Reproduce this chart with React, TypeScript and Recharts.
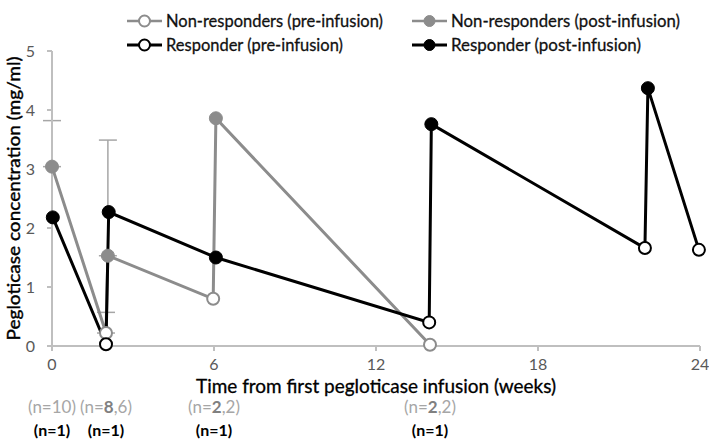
import React from 'react';
import { LineChart, Line, XAxis, YAxis, ErrorBar, ReferenceDot, Label } from 'recharts';

// weeks since first infusion, concentration in mg/ml
const nonRespTime = [0, 2, 2.07, 5.97, 6.07, 14];
const nonRespValue = [3.04, 0.22, 1.53, 0.8, 3.86, 0.02];
const nonRespPhase = ['post', 'pre', 'post', 'pre', 'post', 'pre'];
const nonRespErrUp = [0.78, 0.35, 1.96, null, null, null];

const respTime = [0.03, 2, 2.1, 6.07, 13.97, 14.05, 21.96, 22.07, 23.96];
const respValue = [2.18, 0.03, 2.27, 1.5, 0.4, 3.76, 1.66, 4.37, 1.63];
const respPhase = ['post', 'pre', 'post', 'post', 'pre', 'post', 'pre', 'post', 'pre'];

const xTicks = [0, 6, 12, 18, 24];
const yTicks = [0, 1, 2, 3, 4, 5];

// sample sizes under the axis
const countTimes = [0, 2, 6, 14];
const nonRespCountBold = ['', '8', '2', '2'];
const nonRespCountRest = ['10', ',6', ',2', ',2'];
const respCount = ['1', '1', '1', '1'];

const legendItems = [
  { name: 'Non-responders (pre-infusion)', color: '#8c8c8c', open: true, w: 217 },
  { name: 'Non-responders (post-infusion)', color: '#8c8c8c', open: false, w: 229 },
  { name: 'Responder (pre-infusion)', color: '#000', open: true, w: 177 },
  { name: 'Responder (post-infusion)', color: '#000', open: false, w: 190 },
];

const GRAY = '#8c8c8c';
const AXIS = '#bfbfbf';
const FONT = 'Lato, "Open Sans", sans-serif';

const nonRespData = nonRespTime.map((t, i) => ({
  t,
  v: nonRespValue[i],
  phase: nonRespPhase[i],
  err: nonRespErrUp[i] == null ? undefined : [0, nonRespErrUp[i]],
}));

const respData = respTime.map((t, i) => ({ t, v: respValue[i], phase: respPhase[i] }));

const makeDot = (color: string) => (props: any) => {
  const { cx, cy, payload, index } = props;
  if (cx == null || cy == null) return <g key={`e-${index}`} />;
  const pre = payload.phase === 'pre';
  return (
    <circle
      key={`d-${index}`}
      cx={cx}
      cy={cy}
      r={pre ? 6 : 6.5}
      fill={pre ? '#fff' : color}
      stroke={color}
      strokeWidth={pre ? 2 : 1}
    />
  );
};

const xTitle = (props: any) => {
  const vb = props.viewBox || { x: 52, y: 346, width: 648 };
  return (
    <text
      x={vb.x + vb.width / 2}
      y={vb.y + 47}
      textAnchor="middle"
      fontSize={19}
      fill="#000"
      stroke="#000"
      strokeWidth={0.3}
      textLength={360}
      lengthAdjust="spacingAndGlyphs"
    >
      Time from first pegloticase infusion (weeks)
    </text>
  );
};

const yTitle = (props: any) => {
  const vb = props.viewBox || { x: 0, y: 51, height: 295 };
  const cy = vb.y + vb.height / 2;
  return (
    <text
      x={20}
      y={cy}
      transform={`rotate(-90 20 ${cy})`}
      textAnchor="middle"
      fontSize={18}
      fill="#000"
      stroke="#000"
      strokeWidth={0.4}
      textLength={284}
      lengthAdjust="spacingAndGlyphs"
    >
      Pegloticase concentration (mg/ml)
    </text>
  );
};

const countLabel = (i: number) => (props: any) => {
  const vb = props.viewBox || { x: 0, y: 346 };
  const cx = vb.x + (vb.width || 0) / 2;
  const cy = vb.y + (vb.height || 0) / 2;
  return (
    <g>
      <text x={cx} y={cy + 67} textAnchor="middle" fontSize={17} fill="#a6a6a6">
        (n=
        <tspan fontWeight="bold" fill="#808080">{nonRespCountBold[i]}</tspan>
        {nonRespCountRest[i]})
      </text>
      <text x={cx} y={cy + 90} textAnchor="middle" fontSize={16} fontWeight="bold" fill="#000">
        (n={respCount[i]})
      </text>
    </g>
  );
};

const LegendBox = () => (
  <svg
    width={709}
    height={60}
    style={{ position: 'absolute', left: 0, top: 0, pointerEvents: 'none', fontFamily: FONT }}
  >
    {legendItems.map((item, i) => {
      const x0 = i % 2 === 0 ? 127 : 412;
      const y = i < 2 ? 21 : 45;
      const sw = item.color === '#000' ? 3 : 2.5;
      return (
        <g key={item.name}>
          <line x1={x0} x2={x0 + 35} y1={y} y2={y} stroke={item.color} strokeWidth={sw} />
          <circle
            cx={x0 + 17.5}
            cy={y}
            r={5.5}
            fill={item.open ? '#fff' : item.color}
            stroke={item.color}
            strokeWidth={item.open ? 2 : 1}
          />
          <text
            x={x0 + 39}
            y={y + 6}
            fontSize={18}
            fill="#111"
            stroke="#111"
            strokeWidth={0.3}
            textLength={item.w}
            lengthAdjust="spacingAndGlyphs"
          >
            {item.name}
          </text>
        </g>
      );
    })}
  </svg>
);

export default function App() {
  return (
    <div style={{ position: 'relative', width: 709, height: 441, fontFamily: FONT, background: '#fff' }}>
      <style>{'body{margin:0}'}</style>
      <LineChart width={709} height={441} margin={{ top: 51, right: 9, left: 0, bottom: 0 }}>
        <XAxis
          type="number"
          dataKey="t"
          domain={[0, 24]}
          ticks={xTicks}
          interval={0}
          height={95}
          stroke={AXIS}
          strokeWidth={2}
          tickSize={5}
          tickMargin={8}
          tick={{ fill: '#595959', fontSize: 16 }}
        >
          <Label content={xTitle} />
        </XAxis>
        <YAxis
          type="number"
          domain={[0, 5]}
          ticks={yTicks}
          interval={0}
          width={52}
          stroke={AXIS}
          strokeWidth={2}
          tickSize={5}
          tickMargin={12}
          tick={{ fill: '#595959', fontSize: 16 }}
        >
          <Label content={yTitle} />
        </YAxis>
        <Line
          data={nonRespData}
          dataKey="v"
          type="linear"
          stroke={GRAY}
          strokeWidth={3}
          dot={makeDot(GRAY)}
          activeDot={false}
          isAnimationActive={false}
        >
          <ErrorBar dataKey="err" direction="y" width={9} stroke="#a6a6a6" strokeWidth={1.5} />
        </Line>
        <Line
          data={respData}
          dataKey="v"
          type="linear"
          stroke="#000"
          strokeWidth={3}
          dot={makeDot('#000')}
          activeDot={false}
          isAnimationActive={false}
        />
        {countTimes.map((t, i) => (
          <ReferenceDot
            key={`n-${t}`}
            x={t}
            y={0}
            r={0}
            fill="none"
            stroke="none"
            ifOverflow="visible"
            label={<Label content={countLabel(i)} />}
          />
        ))}
      </LineChart>
      <LegendBox />
    </div>
  );
}
